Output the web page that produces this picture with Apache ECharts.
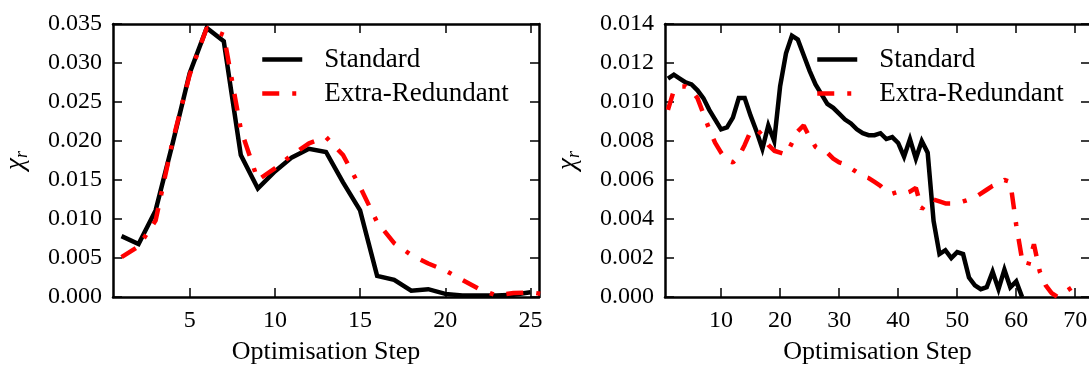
<!DOCTYPE html>
<html>
<head>
<meta charset="utf-8">
<script src="https://cdn.jsdelivr.net/npm/echarts@6/dist/echarts.min.js"></script>
<style>
  html, body { margin: 0; padding: 0; background: #fff; }
  #chart { width: 1089px; height: 367px; }
</style>
</head>
<body>
<div id="chart"></div>
<script>
// Convergence of chi_r over optimisation steps: two runs, standard vs extra-redundant coordinates.

// Left panel
const leftSteps = [1, 2, 3, 4, 5, 6, 7, 8, 9, 10, 11, 12, 13, 14, 15, 16, 17, 18, 19, 20, 21, 22, 23, 24, 25, 26];
const leftStandard = [0.0078, 0.0068, 0.0111, 0.0197, 0.0287, 0.0345, 0.0328, 0.0182, 0.0139, 0.0161,
  0.0179, 0.0190, 0.0186, 0.0147, 0.0111, 0.0027, 0.0022, 0.0008, 0.0010, 0.0004,
  0.0002, 0.0002, 0.0002, 0.0003, 0.0006];
const leftExtra = [0.0051, 0.0065, 0.0098, 0.0200, 0.0285, 0.0345, 0.0336, 0.0215, 0.0150, 0.0165,
  0.0182, 0.0197, 0.0205, 0.0182, 0.0141, 0.0096, 0.0069, 0.0054, 0.0043, 0.0034,
  0.0022, 0.0010, 0.0002, 0.0005, 0.0006, 0.0003];
const leftXTicks = [5, 10, 15, 20, 25];

// Right panel
const rightSteps = [1, 2, 3, 4, 5, 6, 7, 8, 9, 10, 11, 12, 13, 14, 15, 16, 17, 18, 19, 20,
  21, 22, 23, 24, 25, 26, 27, 28, 29, 30, 31, 32, 33, 34, 35, 36, 37, 38, 39, 40,
  41, 42, 43, 44, 45, 46, 47, 48, 49, 50, 51, 52, 53, 54, 55, 56, 57, 58, 59, 60,
  61, 62, 63, 64, 65, 66, 67, 68, 69, 70];
const rightStandard = [0.0112, 0.0114, 0.0112, 0.0110, 0.0109, 0.0106, 0.0102, 0.0096, 0.0091, 0.0086,
  0.0087, 0.0092, 0.0102, 0.0102, 0.0093, 0.0085, 0.0076, 0.0088, 0.0080, 0.0108,
  0.0125, 0.0134, 0.0132, 0.0124, 0.0116, 0.0109, 0.0104, 0.0099, 0.0097, 0.0094,
  0.0091, 0.0089, 0.0086, 0.0084, 0.0083, 0.0083, 0.0084, 0.0081, 0.0082, 0.0079,
  0.0072, 0.0081, 0.0071, 0.0080, 0.0074, 0.0039, 0.0022, 0.0024, 0.0020, 0.0023,
  0.0022, 0.0010, 0.0006, 0.0004, 0.0005, 0.0013, 0.0004, 0.0014, 0.0005, 0.0008,
  0.0000];
const rightExtra = [0.0096, 0.0106, 0.0108, 0.0108, 0.0106, 0.0102, 0.0094, 0.0086, 0.0079, 0.0074,
  0.0070, 0.0069, 0.0072, 0.0078, 0.0085, 0.0086, 0.0083, 0.0078, 0.0075, 0.0074,
  0.0073, 0.0079, 0.0085, 0.0088, 0.0082, 0.0077, 0.0075, 0.0074, 0.0071, 0.0069,
  0.0068, 0.0066, 0.0064, 0.0062, 0.0061, 0.0059, 0.0057, 0.0054, 0.0053, 0.0054,
  0.0053, 0.0054, 0.0056, 0.0045, 0.0049, 0.0050, 0.0049, 0.0048, 0.0048, 0.0048,
  0.0049, 0.0050, 0.0051, 0.0053, 0.0055, 0.0057, 0.0058, 0.0060, 0.0059, 0.0037,
  0.0019, 0.0016, 0.0027, 0.0013, 0.0006, 0.0002, 0.0000, 0.0002, 0.0004, 0.0006];
const rightXTicks = [10, 20, 30, 40, 50, 60, 70];

const seriesNames = ['Standard', 'Extra-Redundant'];
const seriesColors = ['#000000', '#ff0000'];
const xTitle = 'Optimisation Step';

const FONT = '"Liberation Serif", "Times New Roman", serif';
const INK = '#000';
const LINE_W = 4.5;

function pairs(xs, ys) {
  return ys.map((y, i) => [xs[i], y]);
}

function xAxisPair(grid, min, max, ticks) {
  const line = { show: true, onZero: false, lineStyle: { color: INK, width: 2.5 } };
  const tick = { show: true, inside: true, length: 9, customValues: ticks, lineStyle: { color: INK, width: 1.5 } };
  return [
    {
      type: 'value', gridIndex: grid, position: 'bottom', min: min, max: max,
      axisLine: line, axisTick: tick, splitLine: { show: false },
      axisLabel: { customValues: ticks, color: INK, fontFamily: FONT, fontSize: 24, margin: 12 },
      name: xTitle, nameLocation: 'middle', nameGap: 42,
      nameTextStyle: { color: INK, fontFamily: FONT, fontSize: 26 }
    },
    {
      type: 'value', gridIndex: grid, position: 'top', min: min, max: max,
      axisLine: line, axisTick: tick, splitLine: { show: false },
      axisLabel: { show: false }
    }
  ];
}

function yAxisPair(grid, max, step) {
  const line = { show: true, onZero: false, lineStyle: { color: INK, width: 2.5 } };
  const tick = { show: true, inside: true, length: 9, lineStyle: { color: INK, width: 1.5 } };
  return [
    {
      type: 'value', gridIndex: grid, position: 'left', min: 0, max: max, interval: step,
      axisLine: line, axisTick: tick, splitLine: { show: false },
      axisLabel: { color: INK, fontFamily: FONT, fontSize: 24, margin: 11, formatter: v => v.toFixed(3) },
      name: '{c|χ}{s|r}', nameLocation: 'middle', nameRotate: 90, nameGap: 82,
      nameTextStyle: {
        color: INK, fontFamily: FONT,
        rich: {
          c: { fontFamily: FONT, fontSize: 27, fontStyle: 'italic', color: INK, lineHeight: 30, verticalAlign: 'middle' },
          s: { fontFamily: FONT, fontSize: 18, fontStyle: 'italic', color: INK, lineHeight: 30, verticalAlign: 'bottom' }
        }
      }
    },
    {
      type: 'value', gridIndex: grid, position: 'right', min: 0, max: max, interval: step,
      axisLine: line, axisTick: tick, splitLine: { show: false },
      axisLabel: { show: false }
    }
  ];
}

function lineSeries(idx, data, xi, yi) {
  const dashed = idx === 1;
  return {
    type: 'line', name: seriesNames[idx], data: data, xAxisIndex: xi, yAxisIndex: yi,
    color: seriesColors[idx],
    symbol: 'none', showSymbol: false, clip: true,
    itemStyle: { color: seriesColors[idx] },
    lineStyle: dashed
      ? { color: seriesColors[idx], width: LINE_W, type: [17, 13, 4, 13], cap: 'butt' }
      : { color: seriesColors[idx], width: LINE_W, cap: 'butt', join: 'miter' },
    emphasis: { disabled: true }
  };
}

function legendAt(left) {
  return {
    left: left, top: 41, orient: 'vertical',
    itemWidth: 40, itemHeight: 28, itemGap: 7,
    itemStyle: { opacity: 0 },
    lineStyle: { width: LINE_W },
    data: seriesNames,
    textStyle: { color: INK, fontFamily: FONT, fontSize: 27, padding: [0, 0, 0, 17] },
    selectedMode: false
  };
}

const chart = echarts.init(document.getElementById('chart'), null, { renderer: 'canvas' });
chart.setOption({
  animation: false,
  backgroundColor: '#fff',
  grid: [
    { left: 113, top: 24, width: 426, height: 273, containLabel: false, outerBoundsMode: 'none' },
    { left: 665, top: 24, width: 425, height: 273, containLabel: false, outerBoundsMode: 'none' }
  ],
  xAxis: [].concat(
    xAxisPair(0, 0.5, 25.5, leftXTicks),
    xAxisPair(1, 0.5, 72.5, rightXTicks)
  ),
  yAxis: [].concat(
    yAxisPair(0, 0.035, 0.005),
    yAxisPair(1, 0.014, 0.002)
  ),
  legend: [legendAt(255), legendAt(810)],
  series: [
    lineSeries(0, pairs(leftSteps, leftStandard), 0, 0),
    lineSeries(1, pairs(leftSteps, leftExtra), 0, 0),
    lineSeries(0, pairs(rightSteps, rightStandard), 2, 2),
    lineSeries(1, pairs(rightSteps, rightExtra), 2, 2)
  ]
});
</script>
</body>
</html>
